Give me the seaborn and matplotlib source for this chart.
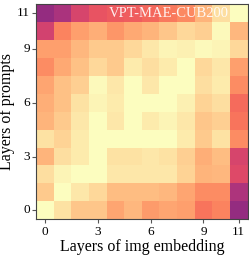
import numpy as np
import pandas as pd
import seaborn as sns
import matplotlib
matplotlib.use('Agg')
import matplotlib.pyplot as plt

# layers of prompts, top row = layer 11, bottom row = layer 0
prompt_layers = list(range(11, -1, -1))
embed_layers = list(range(12))

# values (position on the magma scale)
rows = [
    [0.42, 0.47, 0.58, 0.63, 0.65, 0.66, 0.68, 0.72, 0.75, 0.84, 0.93, 1.00],  # 11
    [0.57, 0.74, 0.80, 0.83, 0.78, 0.82, 0.84, 0.88, 0.92, 0.90, 0.99, 0.85],  # 10
    [0.80, 0.80, 0.85, 0.89, 0.89, 0.92, 0.95, 0.98, 0.97, 0.99, 0.98, 0.92],  # 9
    [0.76, 0.82, 0.87, 0.92, 0.89, 0.96, 0.93, 0.96, 1.00, 0.92, 0.95, 0.80],  # 8
    [0.81, 0.87, 0.90, 0.99, 0.95, 1.00, 0.95, 1.00, 1.00, 0.93, 0.96, 0.76],  # 7
    [0.83, 0.87, 0.94, 0.98, 0.96, 1.00, 1.00, 1.00, 0.97, 0.91, 0.93, 0.69],  # 6
    [0.84, 0.89, 0.95, 1.00, 0.95, 1.00, 0.96, 0.98, 0.95, 0.88, 0.90, 0.71],  # 5
    [0.94, 0.91, 0.96, 1.00, 1.00, 1.00, 1.00, 1.00, 0.96, 0.89, 0.94, 0.76],  # 4
    [0.84, 0.93, 0.96, 1.00, 0.94, 0.94, 0.95, 0.94, 0.90, 0.83, 0.86, 0.58],  # 3
    [0.93, 0.98, 1.00, 1.00, 0.95, 0.95, 0.95, 0.95, 0.91, 0.84, 0.85, 0.60],  # 2
    [0.89, 1.00, 0.95, 0.92, 0.86, 0.86, 0.86, 0.85, 0.81, 0.76, 0.76, 0.48],  # 1
    [1.00, 0.94, 0.88, 0.88, 0.81, 0.85, 0.79, 0.81, 0.80, 0.71, 0.74, 0.42],  # 0
]
tick_layers = [0, 3, 6, 9, 11]

df = pd.DataFrame(rows, index=prompt_layers, columns=embed_layers)

plt.rcParams['font.family'] = ['Liberation Serif', 'DejaVu Serif']

fig = plt.figure(figsize=(2.49, 2.56), dpi=100)
ax = fig.add_axes([0.1446, 0.1434, 0.8494, 0.8406])
sns.heatmap(df, cmap='magma', vmin=0, vmax=1, cbar=False, ax=ax)

ax.set_xticks([embed_layers.index(l) + 0.5 for l in tick_layers])
ax.set_xticklabels(tick_layers, rotation=0)
ax.set_yticks([prompt_layers.index(l) + 0.5 for l in tick_layers])
ax.set_yticklabels(tick_layers, rotation=0)
ax.tick_params(labelsize=9.5, length=3, width=0.8, color='#555555', pad=1.5)

for s in ax.spines.values():
    s.set_visible(True)
    s.set_color('#444444')
    s.set_linewidth(0.8)

ax.set_xlabel('Layers of img embedding', fontsize=11.5, labelpad=1)
ax.set_ylabel('Layers of prompts', fontsize=11.5, labelpad=1)

ax.text(0.91, 0.985, 'VPT-MAE-CUB200', transform=ax.transAxes, ha='right', va='top',
        fontsize=10.5, color='white', alpha=0.9)

fig.savefig('out.png', dpi=100)
